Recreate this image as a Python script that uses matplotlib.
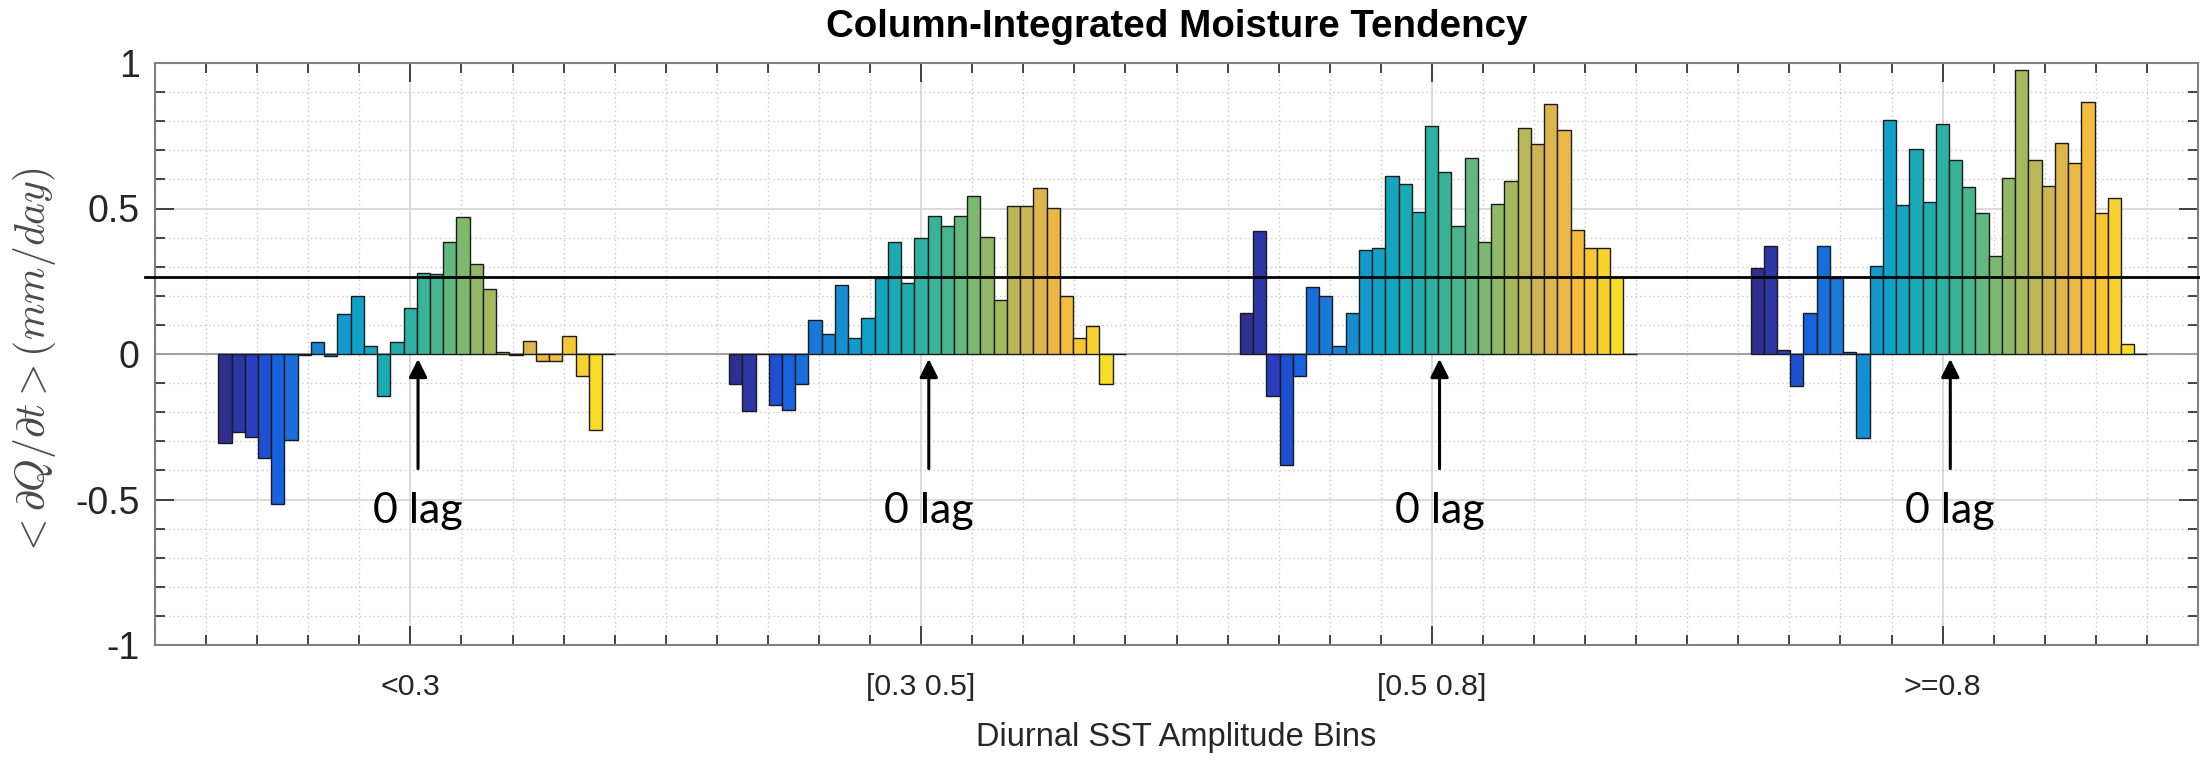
import matplotlib
matplotlib.use("Agg")
import matplotlib.pyplot as plt
import matplotlib.transforms as mtransforms
import numpy as np
from matplotlib import font_manager
from matplotlib.colors import LinearSegmentedColormap
from matplotlib.ticker import MultipleLocator

bins = ["<0.3", "[0.3 0.5]", "[0.5 0.8]", ">=0.8"]

# column-integrated dQ/dt (mm/day), one value per lag, 30 lags per SST bin
dqdt_lt03 = [-0.305, -0.267, -0.284, -0.356, -0.515, -0.296, -0.004, 0.042, -0.006, 0.136,
             0.199, 0.029, -0.144, 0.040, 0.157, 0.279, 0.275, 0.384, 0.470, 0.310,
             0.222, 0.006, -0.002, 0.045, -0.023, -0.023, 0.062, -0.076, -0.261, 0.0]
dqdt_03_05 = [-0.103, -0.197, 0.0, -0.174, -0.194, -0.103, 0.118, 0.069, 0.238, 0.055,
              0.124, 0.261, 0.384, 0.244, 0.399, 0.475, 0.441, 0.475, 0.544, 0.401,
              0.187, 0.507, 0.507, 0.570, 0.502, 0.200, 0.055, 0.097, -0.103, 0.0]
dqdt_05_08 = [0.140, 0.422, -0.145, -0.383, -0.074, 0.229, 0.200, 0.029, 0.140, 0.359,
              0.364, 0.613, 0.584, 0.488, 0.785, 0.625, 0.441, 0.674, 0.385, 0.515,
              0.593, 0.777, 0.723, 0.860, 0.769, 0.427, 0.364, 0.364, 0.263, 0.0]
dqdt_ge08 = [0.297, 0.372, 0.014, -0.110, 0.140, 0.372, 0.262, 0.008, -0.290, 0.304,
             0.804, 0.512, 0.703, 0.523, 0.790, 0.667, 0.575, 0.483, 0.338, 0.606,
             0.976, 0.667, 0.577, 0.724, 0.655, 0.867, 0.483, 0.537, 0.034, 0.0]

ref_level = 0.265

# parula-style colour ramp
parula_like = LinearSegmentedColormap.from_list("parula_like", [
    (0.00, "#2e2f8f"), (0.07, "#2a3ec0"), (0.13, "#1560e0"), (0.20, "#1a78d8"),
    (0.28, "#1591d0"), (0.35, "#0fa3c8"), (0.45, "#20aeaa"), (0.55, "#45b690"),
    (0.62, "#7eb870"), (0.70, "#aab85c"), (0.78, "#d8b450"), (0.85, "#f4b840"),
    (0.92, "#f8cc30"), (1.00, "#f6e81a")])

plt.rcParams["axes.unicode_minus"] = False
plt.rcParams["mathtext.fontset"] = "cm"
plt.rcParams["font.family"] = ["Liberation Sans", "DejaVu Sans"]

# condensed face for title and x-axis text, plain face scaled down if missing
installed = {f.name for f in font_manager.fontManager.ttflist}
if "Liberation Sans Narrow" in installed:
    narrow, shrink = "Liberation Sans Narrow", 1.0
else:
    narrow, shrink = "Liberation Sans", 0.84

fig = plt.figure(figsize=(22, 7.6), dpi=100)
ax = fig.add_axes([155 / 2200, 1 - 645 / 760, 2043 / 2200, 582 / 760])

series = np.array([dqdt_lt03, dqdt_03_05, dqdt_05_08, dqdt_ge08])
n_lag = series.shape[1]
group_x = np.arange(1, len(bins) + 1)
bar_w = 0.0259
first_edge = -0.376
colors = parula_like(np.linspace(0, 1, n_lag))

for k in range(n_lag):
    xs = group_x + first_edge + (k + 0.5) * bar_w
    ax.bar(xs, series[:, k], width=bar_w, color=colors[k],
           edgecolor="#1a1a1a", linewidth=1.0, zorder=3)

ax.axhline(0, color="#a0a0a0", lw=1.4, zorder=2)

ax.set_xlim(0.5, 4.5)
ax.set_ylim(-1, 1)
ax.set_xticks(group_x)
ax.set_xticklabels(bins, family=[narrow, "DejaVu Sans"], fontsize=26 * shrink)
ax.set_yticks([-1, -0.5, 0, 0.5, 1])
ax.set_yticklabels(["-1", "-0.5", "0", "0.5", "1"], fontsize=27)
ax.xaxis.set_minor_locator(MultipleLocator(0.1))
ax.yaxis.set_minor_locator(MultipleLocator(0.1))

ax.tick_params(which="both", direction="in", top=True, right=True,
               color="#262626", width=1.2, labelcolor="#262626")
ax.tick_params(which="major", length=14)
ax.tick_params(which="minor", length=7)
ax.tick_params(axis="x", which="major", pad=20)
ax.tick_params(axis="y", which="major", pad=11)

ax.set_axisbelow(True)
ax.grid(which="major", color="#d4d4d4", lw=1.2, ls="-")
ax.grid(which="minor", color="#c8c8c8", lw=1.0, ls=(0, (1, 2.2)))
for side in ax.spines.values():
    side.set_color("#808080")
    side.set_linewidth(1.5)

ax.set_title("Column-Integrated Moisture Tendency", fontsize=33 * shrink,
             family=[narrow, "DejaVu Sans"], fontweight="bold",
             y=1.0447, pad=0, va="baseline")
ax.set_xlabel("Diurnal SST Amplitude Bins", fontsize=28 * shrink,
              family=[narrow, "DejaVu Sans"], color="#262626")
ax.xaxis.label.set_verticalalignment("baseline")
ax.xaxis.set_label_coords(0.5, -0.1735)
ax.set_ylabel(r"$<\partial Q/\partial t>(mm/day)$", fontsize=30, color="#4a4a4a")
ax.yaxis.label.set_verticalalignment("center")
ax.yaxis.set_label_coords(-0.0592, 0.485)

# reference level across the whole figure width
trans = mtransforms.blended_transform_factory(fig.transFigure, ax.transData)
ax.plot([145 / 2200, 1.0], [ref_level, ref_level], color="black", lw=2.0,
        transform=trans, clip_on=False, zorder=5)

# zero-lag markers
for g in group_x:
    ax.annotate("", xy=(g + 0.015, -0.017), xytext=(g + 0.015, -0.394),
                arrowprops=dict(arrowstyle="-|>,head_length=0.5,head_width=0.25",
                                color="black", lw=2.2, mutation_scale=22,
                                shrinkA=0, shrinkB=0),
                zorder=6)
    ax.text(g + 0.015, -0.58, "0 lag", ha="center", va="baseline",
            fontsize=31, family=["Lato", "DejaVu Sans"], color="black", zorder=6)

fig.savefig("out.png", dpi=100)
